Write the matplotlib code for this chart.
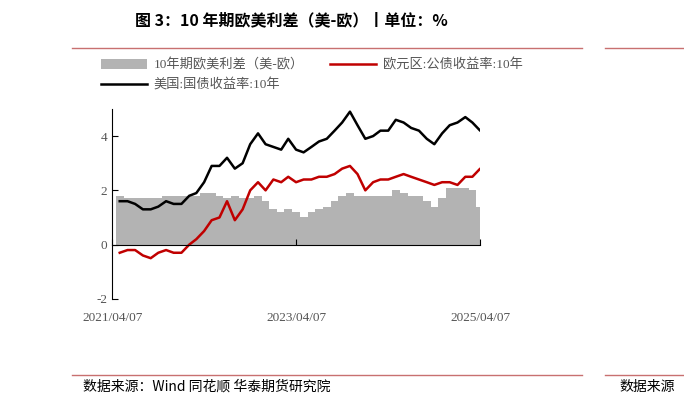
import matplotlib
matplotlib.use("Agg")
import matplotlib.pyplot as plt
import matplotlib.transforms as mtrans
import pandas as pd

plt.rcParams['font.family'] = ['Noto Sans CJK SC', 'DejaVu Sans']
plt.rcParams['axes.unicode_minus'] = False

dates = pd.date_range("2021-04-07", periods=49, freq="MS") + pd.Timedelta(days=6)
us10y = [1.6, 1.6, 1.5, 1.3, 1.3, 1.4, 1.6, 1.5, 1.5, 1.8, 1.9, 2.3, 2.9, 2.9, 3.2, 2.8, 3.0, 3.7,
         4.1, 3.7, 3.6, 3.5, 3.9, 3.5, 3.4, 3.6, 3.8, 3.9, 4.2, 4.5, 4.9, 4.4, 3.9, 4.0, 4.2, 4.2,
         4.6, 4.5, 4.3, 4.2, 3.9, 3.7, 4.1, 4.4, 4.5, 4.7, 4.5, 4.2, 4.1]
eu10y = [-0.3, -0.2, -0.2, -0.4, -0.5, -0.3, -0.2, -0.3, -0.3, 0.0, 0.2, 0.5, 0.9, 1.0, 1.6, 0.9,
         1.3, 2.0, 2.3, 2.0, 2.4, 2.3, 2.5, 2.3, 2.4, 2.4, 2.5, 2.5, 2.6, 2.8, 2.9, 2.6, 2.0, 2.3,
         2.4, 2.4, 2.5, 2.6, 2.5, 2.4, 2.3, 2.2, 2.3, 2.3, 2.2, 2.5, 2.5, 2.8, 2.6]
spread = [1.8, 1.7, 1.7, 1.7, 1.7, 1.7, 1.8, 1.8, 1.8, 1.8, 1.8, 1.9, 1.9, 1.8, 1.7, 1.8, 1.7, 1.7,
          1.8, 1.6, 1.3, 1.2, 1.3, 1.2, 1.0, 1.2, 1.3, 1.4, 1.6, 1.8, 1.9, 1.8, 1.8, 1.8, 1.8, 1.8,
          2.0, 1.9, 1.8, 1.8, 1.6, 1.4, 1.7, 2.1, 2.1, 2.1, 2.0, 1.4, 1.4]
xticks = ["2021/04/07", "2023/04/07", "2025/04/07"]

fig = plt.figure(figsize=(6.84, 4.05), dpi=100)
ax = fig.add_axes([0.164, 0.262, 0.538, 0.469])
b = ax.bar(dates, spread, width=31, color="#b3b3b3", label="10年期欧美利差（美-欧）")
l1, = ax.plot(dates, eu10y, color="#c00000", lw=1.8, label="欧元区:公债收益率:10年")
l2, = ax.plot(dates, us10y, color="black", lw=1.8, label="美国:国债收益率:10年")
ax.set_ylim(-2, 5)
ax.set_yticks([-2, 0, 2, 4])
tick_dates = pd.to_datetime(xticks)
ax.set_xlim(tick_dates[0], tick_dates[-1])
ax.set_xticks(tick_dates)
ax.set_xticklabels([])
for s in ["top", "right"]:
    ax.spines[s].set_visible(False)
ax.spines["bottom"].set_position(("data", 0))
ax.tick_params(axis="x", direction="in", length=4)
ax.tick_params(axis="y", direction="in", length=4, labelsize=9.5, labelcolor="#555555")
for lab in ax.get_yticklabels():
    lab.set_family(["Liberation Serif"])
tr = mtrans.blended_transform_factory(ax.transData, fig.transFigure)
for d, t in zip(tick_dates, xticks):
    ax.text(d, 0.215, t, transform=tr, ha="center", va="center", fontsize=9.5,
            color="#555555", family=["Liberation Serif"])

hs = [b, l2, l1]
fig.legend(hs, [h.get_label() for h in hs], loc="upper left",
           bbox_to_anchor=(0.13, 0.885), ncol=2, frameon=False,
           handlelength=3.5, columnspacing=2.0, labelcolor="#555555", handletextpad=0.5,
           prop={"family": ["Liberation Serif", "Noto Sans CJK SC"], "size": 9.5})

fig.text(0.198, 0.95, "图 3：10 年期欧美利差（美-欧）丨单位：%", fontsize=11.5, weight="bold", va="center")
fig.add_artist(plt.Line2D([0.105, 0.851], [0.882, 0.882], color="#c87070", lw=1))
fig.add_artist(plt.Line2D([0.105, 0.851], [0.074, 0.074], color="#c87070", lw=1))
fig.text(0.122, 0.045, "数据来源：Wind 同花顺 华泰期货研究院", fontsize=10, va="center")
fig.add_artist(plt.Line2D([0.885, 1.0], [0.882, 0.882], color="#c87070", lw=1))
fig.add_artist(plt.Line2D([0.885, 1.0], [0.074, 0.074], color="#c87070", lw=1))
fig.text(0.905, 0.045, "数据来源", fontsize=10, va="center")
fig.savefig("out.png", dpi=100)
